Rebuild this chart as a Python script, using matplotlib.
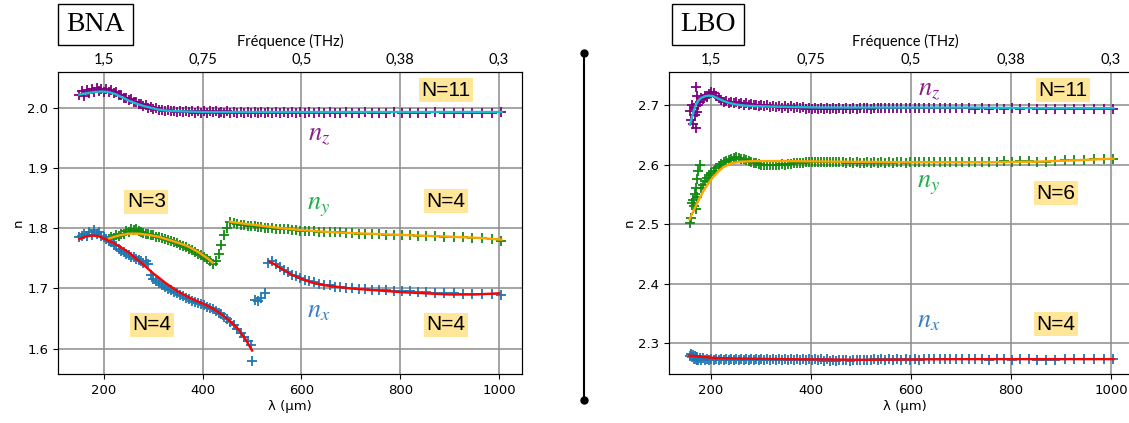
import matplotlib
matplotlib.use("Agg")
import matplotlib.pyplot as plt
from matplotlib.lines import Line2D

# ---------------- data ----------------
# top axis: frequency (THz) labels at the wavelength ticks
LAM_TICKS = [200, 400, 600, 800, 1000]
FREQ_LABELS = ["1,5", "0,75", "0,5", "0,38", "0,3"]

# ---- BNA ----
BNA_LAM = [150, 155, 160, 165, 170, 175, 180, 185, 190, 195,
           200, 205, 210, 215, 220, 225, 230, 235, 240, 245,
           250, 255, 260, 265, 270, 275, 280, 285, 290, 295,
           300, 306, 312, 318, 324, 330, 336, 342, 348, 354,
           360, 366, 372, 378, 384, 390, 396, 402, 408, 414,
           420, 426, 432, 438, 444, 450, 456, 463, 470, 477,
           484, 491, 498, 505, 512, 519, 526, 533, 540, 548,
           556, 564, 572, 580, 589, 598, 607, 616, 626, 636,
           646, 657, 668, 679, 691, 703, 716, 729, 743, 757,
           772, 787, 803, 819, 836, 853, 871, 889, 908, 927,
           946, 966, 986, 1005]
BNA_NZ = [2.022, 2.028, 2.020, 2.030, 2.024, 2.031, 2.026, 2.033, 2.028, 2.031,
          2.026, 2.032, 2.026, 2.029, 2.024, 2.027, 2.021, 2.022, 2.017, 2.017,
          2.013, 2.014, 2.009, 2.010, 2.006, 2.006, 2.003, 2.004, 2.000, 2.001,
          1.998, 1.999, 1.996, 1.997, 1.995, 1.996, 1.994, 1.995, 1.993, 1.995,
          1.993, 1.994, 1.993, 1.994, 1.992, 1.994, 1.992, 1.994, 1.992, 1.994,
          1.993, 1.994, 1.992, 1.993, 1.992, 1.994, 1.992, 1.993, 1.992, 1.993,
          1.992, 1.993, 1.992, 1.993, 1.992, 1.993, 1.992, 1.993, 1.992, 1.993,
          1.992, 1.993, 1.992, 1.993, 1.992, 1.993, 1.992, 1.993, 1.992, 1.993,
          1.992, 1.993, 1.992, 1.992, 1.993, 1.992, 1.992, 1.993, 1.992, 1.992,
          1.992, 1.993, 1.992, 1.992, 1.992, 1.992, 1.993, 1.992, 1.992, 1.992,
          1.992, 1.992, 1.992, 1.993]
BNA_NZ_FIT_LAM = [150, 165, 180, 195, 210, 222, 235, 250, 265, 280, 295, 310, 330, 360, 400, 450, 600, 800, 1005]
BNA_NZ_FIT = [2.022, 2.024, 2.026, 2.027, 2.026, 2.023, 2.018, 2.012, 2.007, 2.003,
              2.000, 1.997, 1.995, 1.994, 1.993, 1.993, 1.993, 1.993, 1.993]

# n_y is measured from 210 µm on (BNA_LAM[12:])
BNA_NY = [1.782, 1.786, 1.784, 1.789, 1.787, 1.791, 1.790, 1.796, 1.794, 1.799,
          1.797, 1.798, 1.795, 1.794, 1.792, 1.791, 1.790, 1.789, 1.788, 1.786,
          1.785, 1.783, 1.782, 1.780, 1.779, 1.777, 1.775, 1.773, 1.771, 1.769,
          1.766, 1.764, 1.761, 1.758, 1.756, 1.753, 1.749, 1.745, 1.741, 1.746,
          1.757, 1.772, 1.788, 1.801, 1.810, 1.809, 1.807, 1.806, 1.805, 1.804,
          1.803, 1.803, 1.802, 1.802, 1.801, 1.800, 1.800, 1.799, 1.799, 1.798,
          1.798, 1.797, 1.797, 1.796, 1.796, 1.795, 1.795, 1.794, 1.794, 1.793,
          1.793, 1.793, 1.792, 1.792, 1.791, 1.791, 1.790, 1.790, 1.789, 1.789,
          1.788, 1.788, 1.787, 1.787, 1.787, 1.786, 1.786, 1.785, 1.784, 1.783,
          1.782, 1.779]
BNA_NY_FIT1_LAM = [210, 230, 250, 270, 290, 310, 330, 350, 370, 390, 410, 420]
BNA_NY_FIT1 = [1.783, 1.788, 1.791, 1.791, 1.789, 1.786, 1.781, 1.776, 1.770, 1.761, 1.750, 1.743]
BNA_NY_FIT2_LAM = [455, 480, 520, 560, 600, 650, 700, 800, 900, 960, 1005]
BNA_NY_FIT2 = [1.811, 1.808, 1.804, 1.800, 1.797, 1.794, 1.792, 1.789, 1.786, 1.784, 1.781]

BNA_NX_LAM = [150, 155, 160, 165, 170, 175, 180, 185, 190, 195,
              200, 205, 210, 215, 220, 225, 230, 235, 240, 245,
              250, 255, 260, 265, 270, 275, 280, 285, 290, 295,
              300, 306, 312, 318, 324, 330, 336, 342, 348, 354,
              360, 366, 372, 378, 384, 390, 396, 402, 408, 414,
              420, 426, 432, 438, 444, 450, 456, 463, 470, 477,
              484, 491, 498, 500, 505, 512, 519, 526,
              533, 540, 548, 556, 564, 572, 580, 589, 598, 607,
              616, 626, 636, 646, 657, 668, 679, 691, 703, 716,
              729, 743, 757, 772, 787, 803, 819, 836, 853, 871,
              889, 908, 927, 946, 966, 986, 1005]
BNA_NX = [1.785, 1.787, 1.790, 1.787, 1.793, 1.789, 1.797, 1.791, 1.793, 1.787,
          1.785, 1.782, 1.779, 1.777, 1.773, 1.770, 1.766, 1.763, 1.760, 1.758,
          1.756, 1.753, 1.752, 1.749, 1.748, 1.745, 1.743, 1.746, 1.740, 1.722,
          1.716, 1.713, 1.709, 1.705, 1.702, 1.699, 1.697, 1.694, 1.692, 1.689,
          1.687, 1.685, 1.683, 1.680, 1.678, 1.676, 1.674, 1.672, 1.670, 1.668,
          1.666, 1.663, 1.660, 1.657, 1.653, 1.649, 1.645, 1.639, 1.633, 1.626,
          1.620, 1.613, 1.607, 1.579, 1.681, 1.679, 1.684, 1.692,
          1.742, 1.745, 1.740, 1.735, 1.731, 1.727, 1.723, 1.720, 1.717, 1.714,
          1.712, 1.710, 1.708, 1.706, 1.705, 1.703, 1.702, 1.701, 1.700, 1.699,
          1.699, 1.698, 1.697, 1.697, 1.696, 1.695, 1.695, 1.694, 1.694, 1.693,
          1.692, 1.692, 1.691, 1.691, 1.691, 1.691, 1.689]
BNA_NX_FIT1_LAM = [150, 162, 175, 188, 200, 225, 250, 275, 300, 325, 350, 375, 400, 420, 440, 455, 470, 485, 500]
BNA_NX_FIT1 = [1.782, 1.786, 1.788, 1.787, 1.783, 1.773, 1.760, 1.743, 1.725, 1.709,
               1.695, 1.684, 1.675, 1.667, 1.656, 1.646, 1.634, 1.618, 1.597]
BNA_NX_FIT2_LAM = [535, 550, 565, 580, 600, 620, 650, 700, 750, 800, 850, 900, 950, 1000]
BNA_NX_FIT2 = [1.745, 1.738, 1.730, 1.723, 1.716, 1.710, 1.705, 1.700, 1.697, 1.694, 1.692, 1.690, 1.690, 1.692]

# ---- LBO ----
LBO_LAM = [157, 159, 161, 163, 165, 167, 169, 170, 171, 172,
           174, 177, 180, 184, 188, 192, 196, 200, 205, 210,
           215, 220, 225, 230, 235, 240, 245, 250, 255, 260,
           265, 270, 275, 280, 285, 290, 295, 300, 306, 312,
           318, 324, 330, 336, 342, 348, 354, 360, 366, 372,
           378, 384, 390, 396, 402, 408, 414, 420, 426, 432,
           438, 444, 450, 456, 463, 470, 477, 484, 491, 498,
           505, 512, 519, 526, 533, 540, 548, 556, 564, 572,
           580, 589, 598, 607, 616, 626, 636, 646, 657, 668,
           679, 691, 703, 716, 729, 743, 757, 772, 787, 803,
           819, 836, 853, 871, 889, 908, 927, 946, 966, 986, 1005]
LBO_NZ = [2.690, 2.675, 2.700, 2.668, 2.695, 2.683, 2.730, 2.662, 2.715, 2.688,
          2.700, 2.706, 2.712, 2.710, 2.716, 2.714, 2.718, 2.722, 2.720, 2.716,
          2.712, 2.708, 2.706, 2.707, 2.704, 2.706, 2.703, 2.705, 2.702, 2.704,
          2.701, 2.703, 2.700, 2.702, 2.700, 2.701, 2.699, 2.701, 2.698, 2.700,
          2.697, 2.699, 2.697, 2.699, 2.696, 2.698, 2.696, 2.698, 2.695, 2.697,
          2.695, 2.697, 2.694, 2.696, 2.694, 2.696, 2.694, 2.695, 2.693, 2.695,
          2.693, 2.695, 2.693, 2.695, 2.694, 2.695, 2.694, 2.696, 2.694, 2.696,
          2.695, 2.696, 2.694, 2.696, 2.695, 2.696, 2.695, 2.696, 2.695, 2.696,
          2.695, 2.696, 2.695, 2.696, 2.695, 2.696, 2.695, 2.696, 2.695, 2.696,
          2.695, 2.696, 2.695, 2.696, 2.694, 2.695, 2.694, 2.695, 2.694, 2.695,
          2.694, 2.695, 2.694, 2.693, 2.693, 2.693, 2.693, 2.694, 2.694, 2.694, 2.694]
LBO_NY = [2.502, 2.510, 2.535, 2.540, 2.530, 2.550, 2.525, 2.560, 2.575, 2.545,
          2.590, 2.600, 2.560, 2.565, 2.572, 2.578, 2.582, 2.586, 2.590, 2.594,
          2.598, 2.601, 2.604, 2.606, 2.608, 2.610, 2.611, 2.612, 2.611, 2.610,
          2.609, 2.608, 2.606, 2.605, 2.603, 2.602, 2.601, 2.600, 2.600, 2.599,
          2.600, 2.599, 2.600, 2.600, 2.601, 2.600, 2.601, 2.601, 2.602, 2.602,
          2.603, 2.603, 2.604, 2.604, 2.605, 2.604, 2.605, 2.604, 2.605, 2.604,
          2.605, 2.604, 2.604, 2.605, 2.604, 2.603, 2.604, 2.603, 2.604, 2.603,
          2.603, 2.604, 2.603, 2.604, 2.603, 2.604, 2.603, 2.604, 2.603, 2.604,
          2.604, 2.603, 2.604, 2.604, 2.604, 2.604, 2.605, 2.604, 2.605, 2.604,
          2.605, 2.605, 2.605, 2.605, 2.605, 2.605, 2.605, 2.605, 2.606, 2.605,
          2.606, 2.606, 2.605, 2.604, 2.606, 2.607, 2.607, 2.608, 2.609, 2.610, 2.610]
LBO_NX = [2.279, 2.281, 2.276, 2.280, 2.274, 2.278, 2.273, 2.277, 2.272, 2.276,
          2.272, 2.275, 2.271, 2.275, 2.272, 2.274, 2.271, 2.274, 2.271, 2.274,
          2.271, 2.273, 2.271, 2.274, 2.271, 2.273, 2.271, 2.273, 2.271, 2.273,
          2.271, 2.273, 2.271, 2.273, 2.271, 2.273, 2.271, 2.273, 2.271, 2.273,
          2.271, 2.273, 2.271, 2.273, 2.271, 2.273, 2.271, 2.273, 2.271, 2.273,
          2.271, 2.273, 2.271, 2.273, 2.271, 2.273, 2.271, 2.273, 2.270, 2.273,
          2.270, 2.272, 2.270, 2.272, 2.271, 2.272, 2.270, 2.272, 2.271, 2.272,
          2.271, 2.272, 2.271, 2.273, 2.271, 2.273, 2.272, 2.273, 2.272, 2.273,
          2.272, 2.273, 2.272, 2.273, 2.272, 2.273, 2.273, 2.274, 2.273, 2.274,
          2.273, 2.274, 2.273, 2.274, 2.273, 2.273, 2.272, 2.273, 2.273, 2.272,
          2.273, 2.273, 2.272, 2.271, 2.271, 2.273, 2.273, 2.273, 2.273, 2.273, 2.273]
LBO_NZ_FIT_LAM = [158, 162, 166, 170, 175, 180, 188, 196, 204, 212, 222, 235, 250, 270, 300, 350, 420, 550, 700, 850, 1005]
LBO_NZ_FIT = [2.667, 2.680, 2.692, 2.701, 2.708, 2.712, 2.715, 2.716, 2.715, 2.712,
              2.708, 2.704, 2.701, 2.699, 2.698, 2.697, 2.696, 2.696, 2.696, 2.695, 2.695]
LBO_NY_FIT_LAM = [157, 165, 175, 185, 195, 205, 215, 225, 240, 260, 290, 350, 450, 600, 750, 850, 920, 1005]
LBO_NY_FIT = [2.508, 2.522, 2.540, 2.556, 2.569, 2.580, 2.589, 2.596, 2.602, 2.605,
              2.606, 2.606, 2.605, 2.604, 2.604, 2.605, 2.607, 2.610]
LBO_NX_FIT_LAM = [157, 180, 210, 260, 350, 500, 700, 1005]
LBO_NX_FIT = [2.279, 2.277, 2.275, 2.274, 2.273, 2.272, 2.273, 2.273]

# ---------------- styles ----------------
C_NZ, C_NY, C_NX = "#800080", "#138a13", "#1f77b4"
C_NZ_TXT, C_NY_TXT, C_NX_TXT = "#8a1f8a", "#1fae4e", "#3a7fc2"
C_FIT_Z, C_FIT_Y, C_FIT_X = "#17becf", "#ffa500", "red"
N_BOX = dict(boxstyle="square,pad=0.12", facecolor="#ffe699", edgecolor="none")

plt.rcParams["mathtext.fontset"] = "stix"
plt.rcParams["font.size"] = 9.5

fig = plt.figure(figsize=(11.29, 4.23), dpi=100)
ax1 = fig.add_axes([0.0514, 0.1158, 0.4107, 0.713])
ax2 = fig.add_axes([0.5926, 0.1158, 0.418, 0.713])


def marks(ax, x, y, color):
    ax.plot(x, y, "+", color=color, markersize=7.5, markeredgewidth=1.3, zorder=2)


def fit(ax, x, y, color):
    ax.plot(x, y, "-", color=color, linewidth=1.7, zorder=3)


def style(ax, xlim, ylim):
    ax.set_xlim(*xlim)
    ax.set_ylim(*ylim)
    ax.set_xticks(LAM_TICKS)
    ax.grid(True, color="0.55", linewidth=1.1)
    ax.set_axisbelow(True)
    ax.set_xlabel("λ (µm)", labelpad=2)
    ax.set_ylabel("n", labelpad=2)
    top = ax.twiny()
    top.set_xlim(*xlim)
    top.set_xticks(LAM_TICKS)
    top.set_xticklabels(FREQ_LABELS, family="Lato", fontsize=10.5)
    top.tick_params(axis="x", length=0, pad=4)
    top.set_xlabel("Fréquence (THz)", family="Lato", fontsize=10.5, labelpad=5)


def tag(ax, x, y, s):
    ax.text(x, y, s, ha="center", va="center", fontsize=15,
            family="Liberation Sans", bbox=N_BOX, zorder=5)


def nlabel(ax, x, y, s, color):
    ax.text(x, y, s, ha="center", va="center", fontsize=19, color=color, zorder=5)


# BNA panel
marks(ax1, BNA_LAM, BNA_NZ, C_NZ)
marks(ax1, BNA_LAM[12:], BNA_NY, C_NY)
marks(ax1, BNA_NX_LAM, BNA_NX, C_NX)
fit(ax1, BNA_NZ_FIT_LAM, BNA_NZ_FIT, C_FIT_Z)
fit(ax1, BNA_NY_FIT1_LAM, BNA_NY_FIT1, C_FIT_Y)
fit(ax1, BNA_NY_FIT2_LAM, BNA_NY_FIT2, C_FIT_Y)
fit(ax1, BNA_NX_FIT1_LAM, BNA_NX_FIT1, C_FIT_X)
fit(ax1, BNA_NX_FIT2_LAM, BNA_NX_FIT2, C_FIT_X)
style(ax1, (107, 1046), (1.558, 2.0587))
tag(ax1, 893, 2.029, "N=11")
tag(ax1, 286, 1.844, "N=3")
tag(ax1, 893, 1.845, "N=4")
tag(ax1, 297, 1.640, "N=4")
tag(ax1, 893, 1.640, "N=4")
nlabel(ax1, 635, 1.957, "$n_z$", C_NZ_TXT)
nlabel(ax1, 635, 1.837, "$n_y$", C_NY_TXT)
nlabel(ax1, 635, 1.664, "$n_x$", C_NX_TXT)

# LBO panel
marks(ax2, LBO_LAM, LBO_NZ, C_NZ)
marks(ax2, LBO_LAM, LBO_NY, C_NY)
marks(ax2, LBO_LAM, LBO_NX, C_NX)
fit(ax2, LBO_NZ_FIT_LAM, LBO_NZ_FIT, C_FIT_Z)
fit(ax2, LBO_NY_FIT_LAM, LBO_NY_FIT, C_FIT_Y)
fit(ax2, LBO_NX_FIT_LAM, LBO_NX_FIT, C_FIT_X)
style(ax2, (116, 1060), (2.248, 2.755))
tag(ax2, 904, 2.725, "N=11")
tag(ax2, 890, 2.552, "N=6")
tag(ax2, 890, 2.332, "N=4")
nlabel(ax2, 636, 2.727, "$n_z$", C_NZ_TXT)
nlabel(ax2, 636, 2.568, "$n_y$", C_NY_TXT)
nlabel(ax2, 636, 2.338, "$n_x$", C_NX_TXT)

# crystal name boxes
for xc, name in [(0.0845, "BNA"), (0.627, "LBO")]:
    fig.text(xc, 0.942, name, ha="center", va="center", fontsize=20,
             family="Liberation Serif",
             bbox=dict(boxstyle="square,pad=0.3", facecolor="white", edgecolor="black", linewidth=1))

# separator between the panels
fig.add_artist(Line2D([0.5173, 0.5173], [0.875, 0.054], color="black", linewidth=1.5,
                      marker="o", markersize=5, transform=fig.transFigure))

fig.savefig("out.png", dpi=100)
